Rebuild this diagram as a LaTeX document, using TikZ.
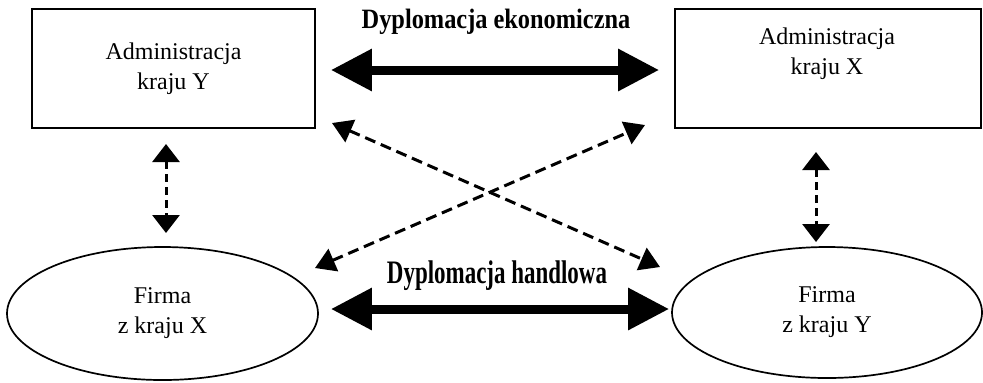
\documentclass[tikz,border=0pt]{standalone}
\usepackage{fontspec}
\setmainfont{Liberation Serif}
\newfontfamily\labA[FakeStretch=0.87]{Liberation Serif}
\newfontfamily\labB[FakeStretch=0.70]{Liberation Serif}
\usetikzlibrary{arrows.meta,shapes.geometric}
\begin{document}
\begin{tikzpicture}[x=0.5pt,y=-0.5pt,
  txt/.style={align=center,inner sep=0pt,font=\fontsize{12}{15}\selectfont},
  box/.style={draw,line width=0.85pt,rectangle,inner sep=0pt,minimum height=59.5pt,txt},
  oval/.style={draw,line width=0.85pt,ellipse,inner sep=0pt,txt},
  bigarrow/.style={line width=4.5pt,{Triangle[length=20.5pt,width=20pt]}-{Triangle[length=20.5pt,width=20pt]}},
  diagarrow/.style={line width=1.5pt,dash pattern=on 5.5pt off 3pt,{Triangle[length=10pt,width=12pt]}-{Triangle[length=10pt,width=12pt]}},
  vertarrow/.style={line width=1.5pt,dash pattern=on 4pt off 2.5pt,{Triangle[length=9pt,width=13.5pt]}-{Triangle[length=9pt,width=13.5pt]}},
  lab/.style={inner sep=0pt}
]
\useasboundingbox (0,0) rectangle (983,382);

\node[box,minimum width=141.5pt] (ay) at (173.5,68.5) {Administracja\\kraju Y};
\node[box,minimum width=153pt] (ax) at (828,68.5) {};
\node[txt] (axt) at (827,54) {Administracja\\kraju X};

\node[oval,minimum width=155.5pt,minimum height=66.5pt] (fx) at (162.5,313.5) {Firma\\z kraju X};
\node[oval,minimum width=155pt,minimum height=65.5pt] (fy) at (827,312.5) {Firma\\z kraju Y};

\node[lab] (l1) at (496,22) {\fontsize{14}{16}\labA\bfseries Dyplomacja ekonomiczna};
\node[lab] (l2) at (497,276) {\fontsize{16.4}{18}\labB\bfseries Dyplomacja handlowa};

\draw[bigarrow,shorten <=7.5pt,shorten >=7.5pt] ([yshift=-0.75pt]ay.east) -- ([yshift=-0.75pt]ax.west);
\draw[bigarrow,shorten <=6pt,shorten >=1pt] ([yshift=2.25pt]fx.east) -- ([yshift=1.75pt]fy.west);

\coordinate (d1s) at (332,123);
\coordinate (d1e) at (660,267);
\coordinate (d2s) at (315,268);
\coordinate (d2e) at (645,125);
\draw[diagarrow] (d1s) -- (d1e);
\draw[diagarrow] (d2s) -- (d2e);

\coordinate (v1s) at (166,144);
\coordinate (v1e) at (166,233);
\coordinate (v2s) at (816,152);
\coordinate (v2e) at (816,242);
\draw[vertarrow] (v1s) -- (v1e);
\draw[vertarrow] (v2s) -- (v2e);
\end{tikzpicture}
\end{document}
